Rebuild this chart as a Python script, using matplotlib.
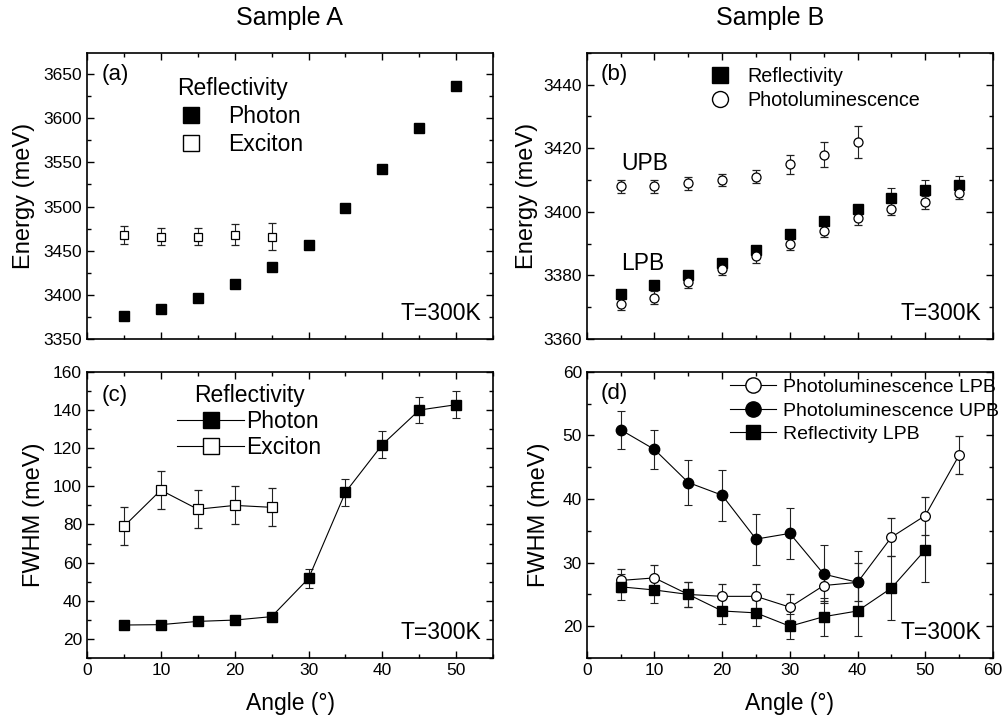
import matplotlib
matplotlib.use("Agg")
import matplotlib.pyplot as plt
from matplotlib.ticker import MultipleLocator
from matplotlib.lines import Line2D

plt.rcParams['font.family'] = ['Liberation Sans', 'DejaVu Sans']

# (a) sample A energies
ang_a = [5, 10, 15, 20, 25, 30, 35, 40, 45, 50]
photon_e = [3376, 3384, 3396, 3412, 3431, 3456, 3498, 3542, 3589, 3636]
ang_ex = [5, 10, 15, 20, 25]
exciton_e = [3468, 3466, 3466, 3468, 3466]
exciton_e_err = [10, 9.5, 9.5, 12, 15]

# (b) sample B energies
ang_b = [5, 10, 15, 20, 25, 30, 35, 40, 45, 50, 55]
refl_b = [3374, 3377, 3380, 3384, 3388, 3393, 3397, 3401, 3404.4, 3407, 3408.4]
refl_b_err = [0, 0, 0, 0, 0, 0, 0, 0, 3, 3, 3]
pl_lpb = [3371, 3373, 3378, 3382, 3386, 3390, 3394, 3398, 3401, 3403, 3406]
pl_lpb_err = [2, 2, 2, 2, 2, 2, 2, 2, 2, 2, 2]
ang_upb = [5, 10, 15, 20, 25, 30, 35, 40]
pl_upb = [3408, 3408, 3409, 3410, 3411, 3415, 3418, 3422]
pl_upb_err = [2, 2, 2, 2, 2, 3, 4, 5]

# (c) sample A FWHM
photon_w = [27.3, 27.5, 29.2, 29.9, 31.7, 51.7, 96.9, 121.9, 140, 142.8]
photon_w_err = [1, 1, 1, 1, 1, 5, 7, 7, 7, 7]
exciton_w = [79, 98, 88, 90, 89]
exciton_w_err = [10, 10, 10, 10, 10]

# (d) sample B FWHM
ang_d_refl = [5, 10, 15, 20, 25, 30, 35, 40, 45, 50]
refl_w = [26.2, 25.7, 25.0, 22.4, 22.1, 20.0, 21.5, 22.4, 26.0, 32.0]
refl_w_err = [2, 2, 2, 2, 2, 2, 3, 4, 5, 5]
pl_lpb_w = [27.2, 27.6, 25.0, 24.7, 24.7, 23.0, 26.4, 26.9, 34.0, 37.4, 46.9]
pl_lpb_w_err = [1.8, 2, 2, 2, 2, 2, 2.5, 3, 3, 3, 3]
pl_upb_w = [50.9, 47.8, 42.6, 40.6, 33.7, 34.6, 28.2, 26.9]
pl_upb_w_err = [3, 3, 3.6, 4, 4, 4, 4.6, 5]

fig = plt.figure(figsize=(10.03, 7.19), dpi=100)
axa = fig.add_axes([0.0867, 0.5285, 0.405, 0.398])
axb = fig.add_axes([0.585, 0.5285, 0.405, 0.398])
axc = fig.add_axes([0.0867, 0.0848, 0.405, 0.398])
axd = fig.add_axes([0.585, 0.0848, 0.405, 0.398])

ekw = dict(ecolor='#222222', elinewidth=0.8, capsize=3, capthick=0.8)


def handle(marker, filled, ms, line=False):
    return Line2D([], [], color='black', lw=0.8 if line else 0, ls='-' if line else 'none',
                  marker=marker, ms=ms, mfc='black' if filled else 'white', mec='black', mew=1)


# panel a
axa.plot(ang_a, photon_e, 's', color='black', ms=6.5)
axa.errorbar(ang_ex, exciton_e, yerr=exciton_e_err, fmt='s', mfc='white', mec='black',
             mew=0.9, ms=6, **ekw)
axa.set_xlim(0, 55)
axa.set_ylim(3350, 3674)
axa.yaxis.set_major_locator(MultipleLocator(50))
axa.yaxis.set_minor_locator(MultipleLocator(25))
axa.set_ylabel('Energy (meV)', fontsize=17, labelpad=6)
leg = axa.legend([handle('s', True, 11), handle('s', False, 11)], ['Photon', 'Exciton'],
                 loc='upper left', bbox_to_anchor=(0.183, 0.97), frameon=False, title='Reflectivity',
                 fontsize=16.5, title_fontsize=16.5, handlelength=1.2, handletextpad=1.0,
                 labelspacing=0.2, borderpad=0.2)
leg._legend_box.align = 'left'
axa.text(0.035, 0.96, '(a)', transform=axa.transAxes, fontsize=16, va='top')

# panel b
axb.errorbar(ang_b, refl_b, yerr=refl_b_err, fmt='s', color='black', ms=7, **ekw)
axb.errorbar(ang_b, pl_lpb, yerr=pl_lpb_err, fmt='o', mfc='white', mec='black', mew=0.9, ms=6.5, **ekw)
axb.errorbar(ang_upb, pl_upb, yerr=pl_upb_err, fmt='o', mfc='white', mec='black', mew=0.9, ms=6.5, **ekw)
axb.set_xlim(0, 60)
axb.set_ylim(3360, 3450)
axb.yaxis.set_major_locator(MultipleLocator(20))
axb.yaxis.set_minor_locator(MultipleLocator(10))
axb.set_ylabel('Energy (meV)', fontsize=17, labelpad=4)
axb.legend([handle('s', True, 11), handle('o', False, 11.5)], ['Reflectivity', 'Photoluminescence'],
           loc='upper left', bbox_to_anchor=(0.265, 1.0), frameon=False, fontsize=14.2,
           handlelength=1.2, handletextpad=0.8, labelspacing=0.25, borderpad=0.2)
axb.text(0.035, 0.96, '(b)', transform=axb.transAxes, fontsize=16, va='top')
axb.text(8.6, 3415.2, 'UPB', fontsize=16.5, ha='center', va='center')
axb.text(8.3, 3383.8, 'LPB', fontsize=16.5, ha='center', va='center')

# panel c
axc.errorbar(ang_a, photon_w, yerr=photon_w_err, fmt='-s', color='black', lw=0.8, ms=6.5, **ekw)
axc.errorbar(ang_ex, exciton_w, yerr=exciton_w_err, fmt='-s', color='black', mfc='white', lw=0.8,
             mew=0.9, ms=6.5, **ekw)
axc.set_xlim(0, 55)
axc.set_ylim(10, 160)
axc.yaxis.set_major_locator(MultipleLocator(20))
axc.yaxis.set_minor_locator(MultipleLocator(10))
axc.set_ylabel('FWHM (meV)', fontsize=17, labelpad=6)
axc.set_xlabel('Angle (°)', fontsize=16.5, labelpad=10)
axc.legend([handle('s', True, 12, True), handle('s', False, 12, True)], ['Photon', 'Exciton'],
           loc='upper left', bbox_to_anchor=(0.183, 1.015), frameon=False, title='Reflectivity',
           fontsize=16.5, title_fontsize=16.5, handlelength=2.9, handletextpad=0.1,
           labelspacing=0.15, borderpad=0.2)
axc.text(0.035, 0.955, '(c)', transform=axc.transAxes, fontsize=16, va='top')

# panel d
axd.errorbar(ang_b, pl_lpb_w, yerr=pl_lpb_w_err, fmt='-o', color='black', mfc='white', lw=0.8,
             mew=0.9, ms=7, **ekw)
axd.errorbar(ang_upb, pl_upb_w, yerr=pl_upb_w_err, fmt='-o', color='black', lw=0.8, ms=7.5, **ekw)
axd.errorbar(ang_d_refl, refl_w, yerr=refl_w_err, fmt='-s', color='black', lw=0.8, ms=7, **ekw)
axd.set_xlim(0, 60)
axd.set_ylim(15, 60)
axd.yaxis.set_major_locator(MultipleLocator(10))
axd.yaxis.set_minor_locator(MultipleLocator(5))
axd.set_ylabel('FWHM (meV)', fontsize=17, labelpad=9)
axd.set_xlabel('Angle (°)', fontsize=16.5, labelpad=10)
axd.legend([handle('o', False, 11, True), handle('o', True, 11, True), handle('s', True, 10.5, True)],
           ['Photoluminescence LPB', 'Photoluminescence UPB', 'Reflectivity LPB'],
           loc='upper right', bbox_to_anchor=(1.025, 0.99), frameon=False,
           fontsize=14, handlelength=2.4, handletextpad=0.35,
           labelspacing=0.3, borderpad=0.1, borderaxespad=0.1)
axd.text(0.035, 0.96, '(d)', transform=axd.transAxes, fontsize=16, va='top')

for ax in (axa, axb, axc, axd):
    ax.xaxis.set_major_locator(MultipleLocator(10))
    ax.xaxis.set_minor_locator(MultipleLocator(5))
    ax.tick_params(which='both', direction='in', top=True, right=True, labelsize=12.5)
    ax.tick_params(which='major', length=5, width=1)
    ax.tick_params(which='minor', length=3, width=1)
    for s in ax.spines.values():
        s.set_linewidth(1.2)
    ax.text(0.97, 0.05, 'T=300K', transform=ax.transAxes, fontsize=16.5, ha='right', va='bottom')

for ax in (axa, axb):
    ax.tick_params(labelbottom=False)

fig.text(0.289, 0.975, 'Sample A', fontsize=18, ha='center', va='center')
fig.text(0.768, 0.975, 'Sample B', fontsize=18, ha='center', va='center')

fig.savefig('out.png', dpi=100)
